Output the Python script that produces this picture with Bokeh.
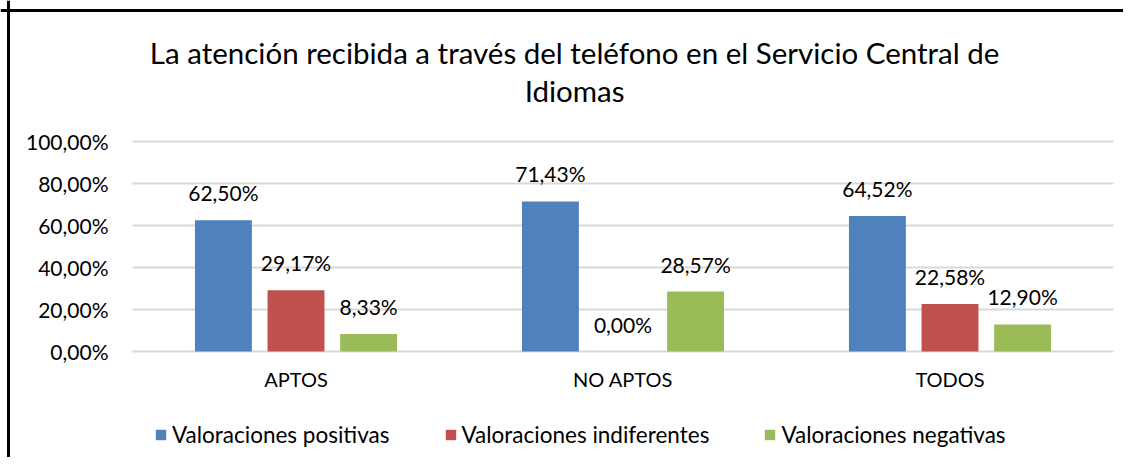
from bokeh.plotting import figure
from bokeh.models import (Range1d, LabelSet, Label, ColumnDataSource, Legend,
                          LegendItem, FixedTicker, Span)
from bokeh.core.properties import value
from bokeh.embed import file_html
from bokeh.resources import INLINE

# ---- data ----
categories = ["APTOS", "NO APTOS", "TODOS"]
series_names = ["Valoraciones positivas", "Valoraciones indiferentes", "Valoraciones negativas"]
positivas = [62.50, 71.43, 64.52]
indiferentes = [29.17, 0.00, 22.58]
negativas = [8.33, 28.57, 12.90]
y_ticks = [0, 20, 40, 60, 80, 100]
y_tick_labels = ["0,00%", "20,00%", "40,00%", "60,00%", "80,00%", "100,00%"]
title_lines = ["La atención recibida a través del teléfono en el Servicio Central de", "Idiomas"]

# ---- styling ----
colors = ["#4F81BD", "#C0504D", "#9BBB59"]
offsets = [-0.222, 0.0, 0.222]
BAR_W = 0.174
FONT = "Lato"
GRID = "#d9d9d9"

W, H = 1123, 457
PX_X, PX_Y = 327, 2.1                       # pixels per category / per percent
X0, X1 = -132 / PX_X, 3 + 10 / PX_X          # frame spans the whole canvas
Y0, Y1 = -106 / PX_Y, 100 + 141 / PX_Y


def fmt(v):
    return ("%.2f" % v).replace(".", ",") + "%"


cat_pos = [i + 0.5 for i in range(len(categories))]

p = figure(x_range=Range1d(X0, X1), y_range=Range1d(Y0, Y1),
           width=W, height=H, output_backend="svg", toolbar_location=None,
           min_border=0, min_border_left=0, min_border_right=0,
           min_border_top=0, min_border_bottom=0)
p.title = None
p.outline_line_color = None
p.background_fill_color = "white"
p.border_fill_color = "white"
p.xgrid.visible = False
p.ygrid.visible = False

# gridlines across the category area
p.segment(x0=[0] * len(y_ticks), x1=[len(categories)] * len(y_ticks), y0=y_ticks, y1=y_ticks,
          line_color=GRID, line_width=2)

values = [positivas, indiferentes, negativas]
items = []
for name, vals, col, off in zip(series_names, values, colors, offsets):
    xs = [c + off for c in cat_pos]
    src = ColumnDataSource(dict(x=xs, val=vals, lab=[fmt(v) for v in vals]))
    r = p.vbar(x="x", top="val", width=BAR_W, source=src, fill_color=col, line_color=None)
    items.append(LegendItem(label=name, renderers=[r]))
    labels = LabelSet(x="x", y="val", text="lab", source=src,
                      text_align="center", text_baseline="alphabetic", y_offset=19,
                      text_font=value(FONT), text_font_size=value("21px"),
                      text_color=value("black"))
    p.add_layout(labels)

# axes placed inside the frame
p.yaxis.fixed_location = 0
p.yaxis.ticker = FixedTicker(ticks=y_ticks)
p.yaxis.major_label_overrides = {t: l for t, l in zip(y_ticks, y_tick_labels)}
p.yaxis.axis_line_color = None
p.yaxis.major_tick_line_color = None
p.yaxis.minor_tick_line_color = None
p.yaxis.major_label_standoff = 18
p.yaxis.major_label_text_font = FONT
p.yaxis.major_label_text_font_size = "21px"
p.yaxis.major_label_text_color = "black"

p.xaxis.fixed_location = 0
p.xaxis.ticker = FixedTicker(ticks=cat_pos)
p.xaxis.major_label_overrides = {c: n for c, n in zip(cat_pos, categories)}
p.xaxis.axis_line_color = None
p.xaxis.major_tick_line_color = None
p.xaxis.minor_tick_line_color = None
p.xaxis.major_label_standoff = 9
p.xaxis.major_label_text_font = FONT
p.xaxis.major_label_text_font_size = "20px"
p.xaxis.major_label_text_color = "black"

# title (two lines)
for line, yv in zip(title_lines, [100 + 89 / PX_Y, 100 + 51 / PX_Y]):
    p.add_layout(Label(x=1.352, y=yv, text=line, text_align="center", text_baseline="middle",
                       text_font=FONT, text_font_size="29.5px", text_color="black"))

# chart-area border (top and left visible)
p.add_layout(Span(location=X0 + 8 / PX_X, dimension="height", line_color="black", line_width=3))
p.add_layout(Span(location=Y1 - 10 / PX_Y, dimension="width", line_color="black", line_width=3))

legend = Legend(items=items, orientation="horizontal", location=(154, 9),
                glyph_width=13, glyph_height=13, label_standoff=5, spacing=54,
                padding=0, margin=0, border_line_color=None, background_fill_alpha=0,
                label_text_font=FONT, label_text_font_size="22.5px", label_text_color="black")
p.add_layout(legend)

open("out.html", "w").write(file_html(p, INLINE))
